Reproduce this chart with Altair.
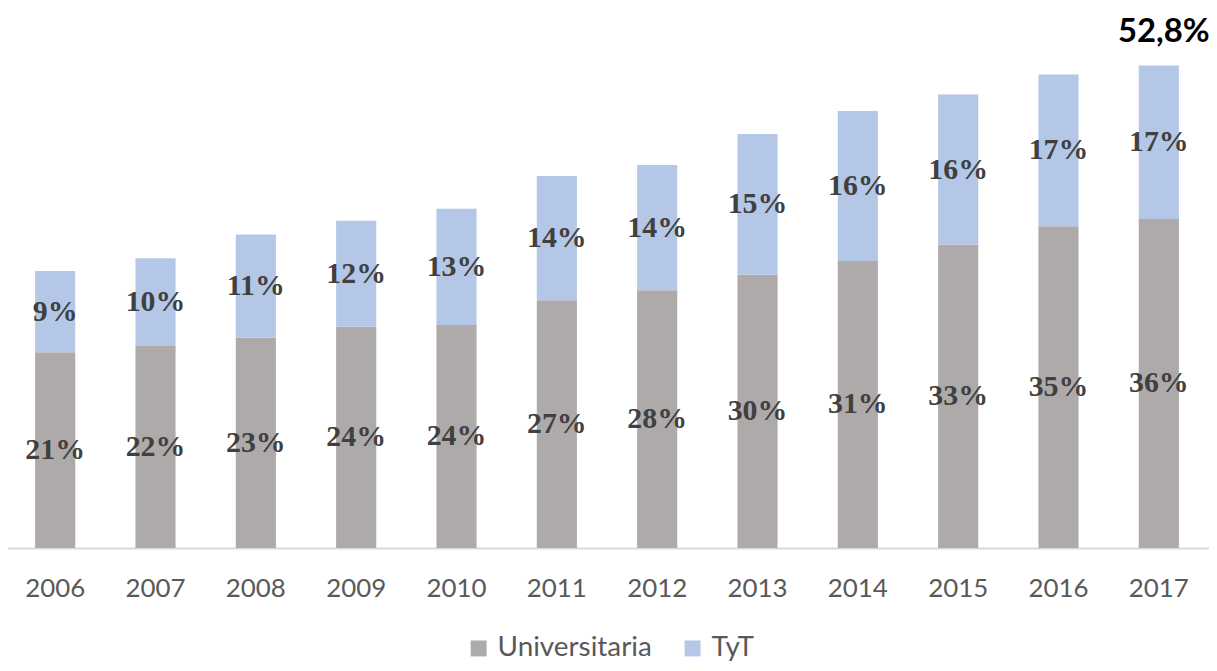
import altair as alt
import pandas as pd

years = ["2006", "2007", "2008", "2009", "2010", "2011", "2012", "2013", "2014", "2015", "2016", "2017"]
universitaria = [21.4, 22.1, 23.0, 24.2, 24.4, 27.1, 28.2, 29.9, 31.4, 33.2, 35.2, 36.0]
tyt = [8.9, 9.6, 11.3, 11.6, 12.7, 13.6, 13.7, 15.4, 16.4, 16.4, 16.6, 16.8]
series = ["Universitaria", "TyT"]
colors = ["#AEAAAA", "#B4C7E7"]
total_label_year = "2017"
total_label_text = "52,8%"

rows = []
for i, y in enumerate(years):
    u, t = universitaria[i], tyt[i]
    rows.append({"year": y, "serie": "Universitaria", "v0": 0.0, "v1": u,
                 "mid": u / 2, "label": f"{round(u)}%"})
    rows.append({"year": y, "serie": "TyT", "v0": u, "v1": u + t,
                 "mid": u + t / 2, "label": f"{round(t)}%"})
df = pd.DataFrame(rows)

tot_idx = years.index(total_label_year)
df_tot = pd.DataFrame([{"year": total_label_year,
                        "total": universitaria[tot_idx] + tyt[tot_idx],
                        "label": total_label_text}])

W = 1207
H = 541
ymax = 58.9

xscale = alt.Scale(paddingInner=0.6, paddingOuter=0.3, range=[-3, W])
xenc = alt.X("year:N", sort=years, scale=xscale,
             axis=alt.Axis(title=None, labelAngle=0, ticks=False, domainColor="#D9D9D9",
                           domainWidth=2, labelFont="Lato", labelFontSize=26,
                           labelColor="#595959", labelPadding=28, grid=False))
yscale = alt.Scale(domain=[0, ymax], nice=False, zero=True)

bars = alt.Chart(df).mark_bar().encode(
    x=xenc,
    y=alt.Y("v0:Q", scale=yscale, axis=None),
    y2="v1:Q",
    color=alt.Color("serie:N", sort=series,
                    scale=alt.Scale(domain=series, range=colors),
                    legend=alt.Legend(title=None, orient="none", direction="horizontal",
                                      legendX=459, legendY=628,
                                      symbolType="square", symbolSize=256,
                                      symbolStrokeWidth=0, labelFont="Lato",
                                      labelFontSize=28, labelColor="#595959",
                                      labelOffset=5, columnPadding=26, padding=0)),
)

labels = alt.Chart(df).mark_text(font="Liberation Serif", fontWeight="bold", fontSize=30,
                                 color="#404040", baseline="middle").encode(
    x=alt.X("year:N", sort=years),
    y=alt.Y("mid:Q", scale=yscale),
    text="label:N",
)

tot = alt.Chart(df_tot).mark_text(font="Lato", fontWeight="bold", fontSize=33,
                                  color="#000000", baseline="alphabetic", dy=-23, dx=5).encode(
    x=alt.X("year:N", sort=years),
    y=alt.Y("total:Q", scale=yscale),
    text="label:N",
)

chart = alt.layer(bars, labels, tot).properties(
    width=W, height=H, background="white",
    padding={"left": 0, "right": 0, "top": 0, "bottom": 114},
    autosize=alt.AutoSizeParams(type="none"),
).configure_view(stroke=None)

chart.save("out.html", embed_options={"renderer": "svg", "actions": False})
